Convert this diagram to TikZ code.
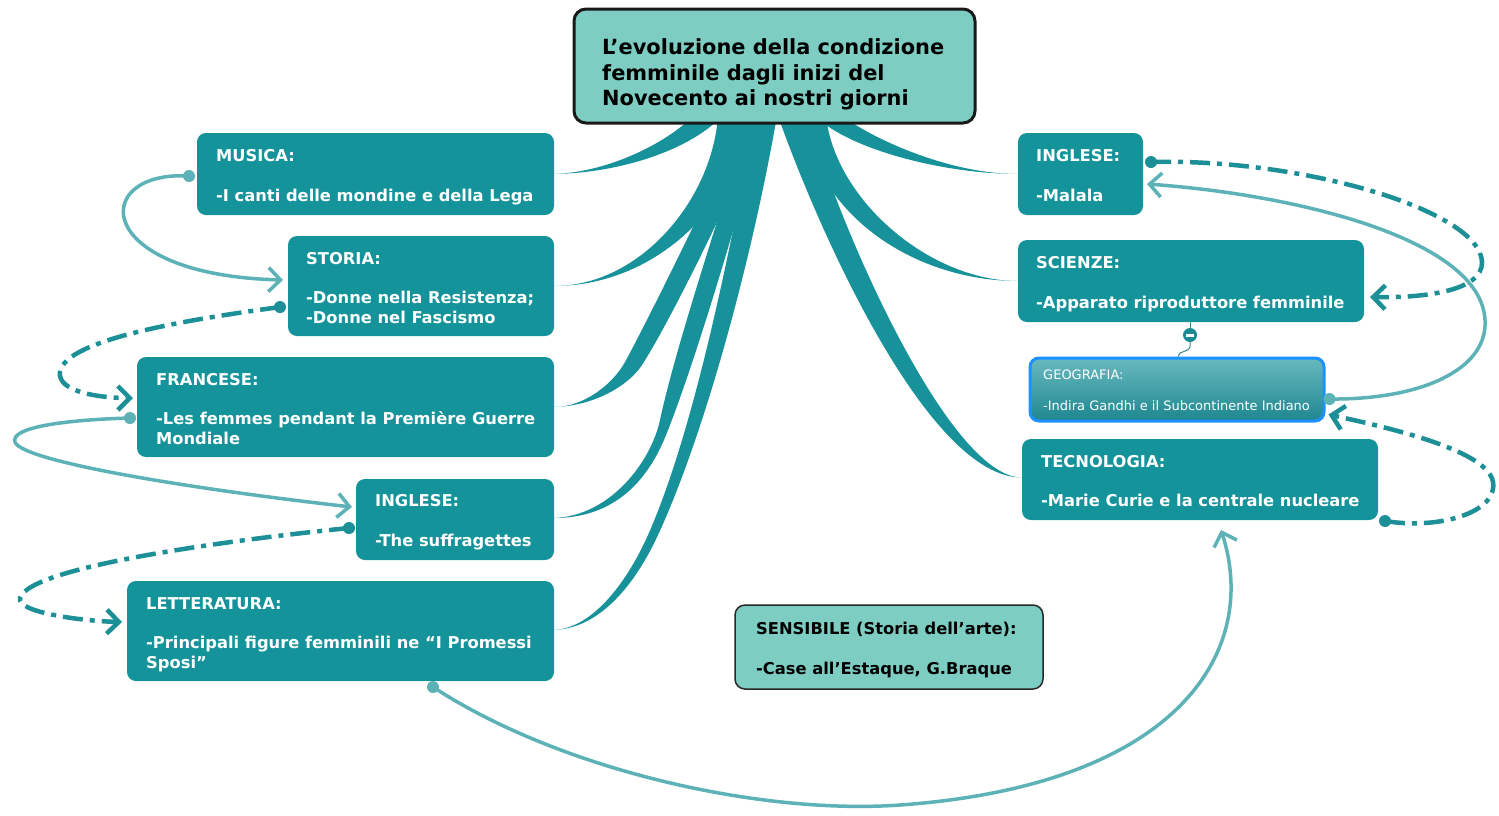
\documentclass[tikz,border=0pt]{standalone}
\usepackage{fontspec}
\setmainfont{DejaVu Sans}
\usetikzlibrary{arrows.meta,calc}
\definecolor{tealN}{RGB}{21,147,155}
\definecolor{lightN}{RGB}{126,205,194}
\definecolor{branchC}{RGB}{23,146,155}
\definecolor{solidC}{RGB}{92,178,183}
\definecolor{dashC}{RGB}{28,143,151}
\definecolor{geoTop}{RGB}{104,186,191}
\definecolor{geoBot}{RGB}{30,134,143}
\definecolor{geoBorder}{RGB}{30,144,255}
\definecolor{knobC}{RGB}{26,138,147}
\tikzset{
  tealbox/.style={fill=tealN, rounded corners=9pt, inner sep=0pt, outer sep=0pt},
  ttxt/.style={anchor=base west, inner sep=0pt, text=white, font=\bfseries\fontsize{16.3}{20}\selectfont},
  btxt/.style={anchor=base west, inner sep=0pt, text=black, font=\bfseries\fontsize{16.3}{20}\selectfont},
  titletxt/.style={anchor=base west, inner sep=0pt, text=black, font=\bfseries\fontsize{20.9}{25}\selectfont},
  geotxt/.style={anchor=base west, inner sep=0pt, text=white, font=\fontsize{13}{16}\selectfont},
  solidlink/.style={draw=solidC, line width=3.5pt, -{Straight Barb[length=12pt,width=24pt]}},
  dashlink/.style={draw=dashC, line width=4.5pt, dash pattern=on 20pt off 7pt on 5pt off 7pt, -{Straight Barb[length=12pt,width=24pt]}},
  branch/.style={fill=branchC},
}
\begin{document}
\begin{tikzpicture}[x=1pt,y=-1pt]
\useasboundingbox (0,0) rectangle (1499,815);

% boxes (positions)
\node[tealbox, minimum width=357pt, minimum height=82pt] (musica) at (375.5,174) {};
\node[tealbox, minimum width=266pt, minimum height=100pt] (storia) at (421,286) {};
\node[tealbox, minimum width=417pt, minimum height=100pt] (francese) at (345.5,407) {};
\node[tealbox, minimum width=198pt, minimum height=81pt] (inglL) at (455,519.5) {};
\node[tealbox, minimum width=427pt, minimum height=100pt] (letteratura) at (340.5,631) {};
\node[tealbox, minimum width=125pt, minimum height=82pt] (inglR) at (1080.5,174) {};
\node[tealbox, minimum width=346pt, minimum height=82pt] (scienze) at (1191,281) {};
\node[tealbox, minimum width=356pt, minimum height=81pt] (tecnologia) at (1200,479.5) {};
\node[draw=geoBorder, line width=3pt, top color=geoTop, bottom color=geoBot, rounded corners=9pt, inner sep=0pt, minimum width=294pt, minimum height=63pt] (geografia) at (1177,389.5) {};
\node[fill=lightN, draw=black!85, line width=1.5pt, rounded corners=10pt, inner sep=0pt, minimum width=308pt, minimum height=84pt] (sensibile) at (889,647) {};

% branch end points
\coordinate (eIL) at ($(inglL.east)+(0,-1.5)$);
\coordinate (eLet) at ($(letteratura.east)+(0,-1)$);
\coordinate (eTec) at ($(tecnologia.west)+(0,-2)$);

% branches from the title
\fill[branch] (693,116) .. controls (670,140) and (612,172) .. (musica.east)
  .. controls (620,173) and (690,150) .. (722,116) -- cycle;
\fill[branch] (718,116) .. controls (712,200) and (640,286) .. (storia.east)
  .. controls (655,286) and (738,205) .. (748,116) -- cycle;
\fill[branch] (745,116) .. controls (712,190) and (648,320) .. (625,362)
  .. controls (613.5,383) and (585,407) .. (francese.east)
  .. controls (595,406) and (629,385) .. (642,365)
  .. controls (668,325) and (730,200) .. (765,116) -- cycle;
\fill[branch] (750,116) .. controls (715,230) and (675,350) .. (660,420)
  .. controls (651,462) and (610,516) .. (eIL)
  .. controls (635,518) and (660,451) .. (670,425)
  .. controls (695,360) and (735,230) .. (765,116) -- cycle;
\fill[branch] (755,116) .. controls (725,280) and (690,440) .. (648,535)
  .. controls (629.4,577) and (595,628) .. (eLet)
  .. controls (605,628) and (639.5,575) .. (658,535)
  .. controls (702,440) and (750,270) .. (777,116) -- cycle;
\fill[branch] (778,116) .. controls (822,240) and (930,478) .. (eTec)
  .. controls (950,478) and (840,230) .. (808,116) -- cycle;
\fill[branch] (826,116) .. controls (835,200) and (930,281) .. (scienze.west)
  .. controls (915,281) and (815,215) .. (803,116) -- cycle;
\fill[branch] (842,116) .. controls (875,140) and (950,174) .. (inglR.west)
  .. controls (945,174) and (850,150) .. (815,116) -- cycle;

% title box
\node[fill=lightN, draw=black!90, line width=3pt, rounded corners=12pt, inner sep=0pt, minimum width=401pt, minimum height=114pt] (titlebox) at (774.5,66) {};
\node[titletxt] (title1) at (602,54.5) {L’evoluzione della condizione};
\node[titletxt] (title2) at (602,80) {femminile dagli inizi del};
\node[titletxt] (title3) at (602,105.5) {Novecento ai nostri giorni};

% texts
\node[ttxt] (musicaA) at (216,161) {MUSICA:};
\node[ttxt] (musicaB) at (216,201) {-I canti delle mondine e della Lega};
\node[ttxt] (storiaA) at (306,264) {STORIA:};
\node[ttxt] (storiaB) at (306,303) {-Donne nella Resistenza;};
\node[ttxt] (storiaC) at (306,323) {-Donne nel Fascismo};
\node[ttxt] (franceseA) at (156,385) {FRANCESE:};
\node[ttxt] (franceseB) at (156,424) {-Les femmes pendant la Première Guerre};
\node[ttxt] (franceseC) at (156,444) {Mondiale};
\node[ttxt] (inglLA) at (375,506) {INGLESE:};
\node[ttxt] (inglLB) at (375,546) {-The suffragettes};
\node[ttxt] (letteraturaA) at (146,609) {LETTERATURA:};
\node[ttxt] (letteraturaB) at (146,648.5) {-Principali figure femminili ne “I Promessi};
\node[ttxt] (letteraturaC) at (146,668.5) {Sposi”};
\node[ttxt] (inglRA) at (1036,161) {INGLESE:};
\node[ttxt] (inglRB) at (1036,201) {-Malala};
\node[ttxt] (scienzeA) at (1036,268) {SCIENZE:};
\node[ttxt] (scienzeB) at (1036,308) {-Apparato riproduttore femminile};
\node[ttxt] (tecnologiaA) at (1041,467) {TECNOLOGIA:};
\node[ttxt] (tecnologiaB) at (1041,506) {-Marie Curie e la centrale nucleare};
\node[geotxt] (geografiaA) at (1043,379) {GEOGRAFIA:};
\node[geotxt] (geografiaB) at (1043,410) {-Indira Gandhi e il Subcontinente Indiano};
\node[btxt] (sensibileA) at (756,634) {SENSIBILE (Storia dell’arte):};
\node[btxt] (sensibileB) at (756,674) {-Case all’Estaque, G.Braque};

% collapse knob
\node[circle, fill=knobC, minimum size=14pt, inner sep=0pt] (knob) at (1190,335) {};
\fill[white] (1186,333.7) rectangle (1194,336.5);
\draw[knobC!70!gray, line width=1pt] (knob.north) -- (knob.north |- scienze.south);
\draw[knobC!70!gray, line width=1pt] (knob.south) -- (1190,346) .. controls (1190,353) and (1178,350) .. ($(geografia.north)+(1,0)$);

% connectors
\coordinate (m1) at ($(musica.west)+(-8,2)$);
\coordinate (s1) at ($(storia.west)+(-8,21)$);
\coordinate (f1) at ($(francese.west)+(-7,11)$);
\coordinate (i1) at ($(inglL.west)+(-7,8.5)$);
\coordinate (l1) at ($(letteratura.south)+(92.5,6)$);
\coordinate (r1) at ($(inglR.east)+(8,-12)$);
\coordinate (g1) at ($(geografia.east)+(4,9.5)$);
\coordinate (t1) at ($(tecnologia.south east)+(7,1)$);

\draw[solidlink] (m1) .. controls (90,170) and (90,275) .. ($(storia.west)+(-5,-6)$);
\draw[dashlink] (s1) .. controls (200,318) and (65,338) .. (60,372) .. controls (57,392) and (100,398) .. ($(francese.west)+(-4,-9)$);
\draw[solidlink] (f1) .. controls (60,420) and (10,428) .. (15,442) .. controls (22,462) and (200,490) .. ($(inglL.west)+(-4,-12.5)$);
\draw[dashlink] (i1) .. controls (250,538) and (30,565) .. (20,598) .. controls (16,612) and (80,621) .. ($(letteratura.west)+(-5,-9)$);
\draw[solidlink] (l1) .. controls (560,770) and (760,815) .. (900,805) .. controls (1180,785) and (1260,650) .. ($(tecnologia.south)+(21,10)$);
\draw[dashlink] (r1) .. controls (1300,158) and (1480,210) .. (1482,262) .. controls (1483,292) and (1420,298) .. ($(scienze.east)+(6,16)$);
\draw[solidlink] (g1) .. controls (1420,400) and (1488,370) .. (1485,320) .. controls (1481,240) and (1300,195) .. ($(inglR.east)+(4,10)$);
\draw[dashlink] (t1) .. controls (1440,530) and (1498,512) .. (1493,482) .. controls (1488,452) and (1400,430) .. ($(geografia.south east)+(3,-8)$);

\fill[solidC] (m1) circle[radius=6pt];
\fill[dashC] (s1) circle[radius=6pt];
\fill[solidC] (f1) circle[radius=6pt];
\fill[dashC] (i1) circle[radius=6pt];
\fill[solidC] (l1) circle[radius=6pt];
\fill[dashC] (r1) circle[radius=6pt];
\fill[solidC] (g1) circle[radius=6pt];
\fill[dashC] (t1) circle[radius=6pt];
\end{tikzpicture}
\end{document}
